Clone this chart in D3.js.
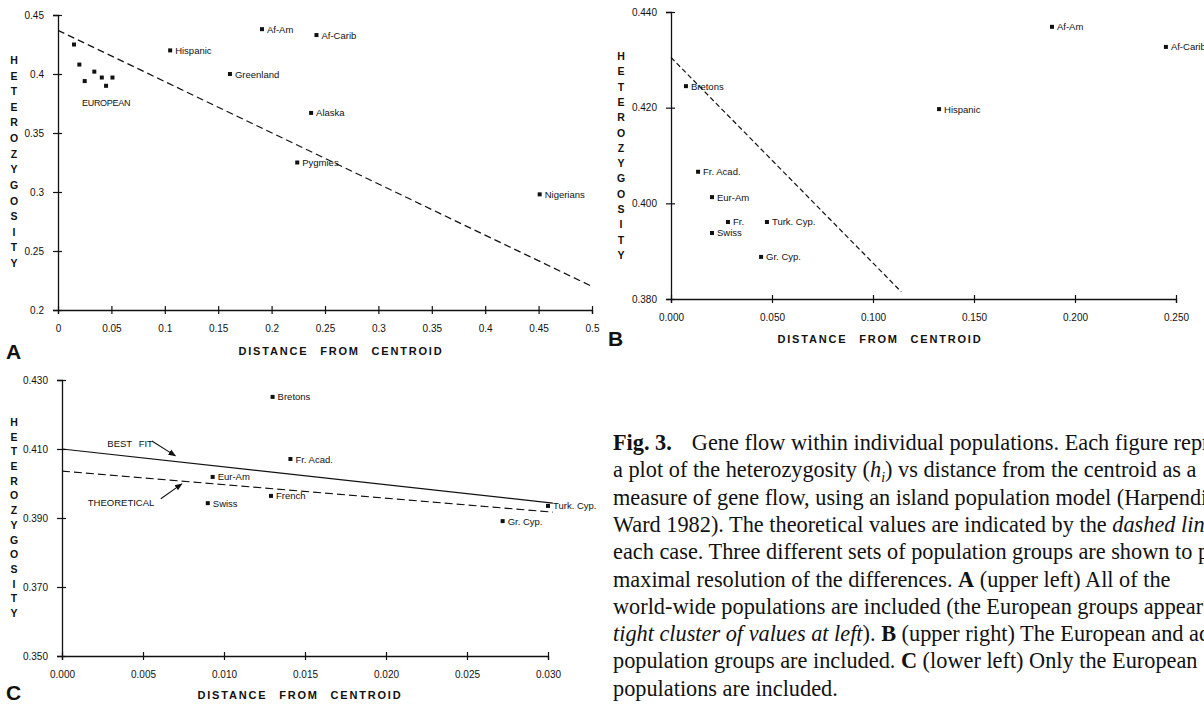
<!DOCTYPE html>
<html>
<head>
<meta charset="utf-8">
<script src="https://cdn.jsdelivr.net/npm/d3@7"></script>
<style>
body { margin: 0; background: #fff; overflow: hidden; }
svg text { font-family: "Liberation Sans", Arial, sans-serif; fill: #111; }
</style>
</head>
<body>
<svg id="fig" width="1204" height="705"></svg>
<script>
// Panel A: all populations
var popA = ["Hispanic", "Af-Am", "Af-Carib", "Greenland", "Alaska", "Pygmies", "Nigerians"];
var distA = [0.105, 0.191, 0.242, 0.161, 0.237, 0.224, 0.451];
var hetA = [0.420, 0.438, 0.433, 0.400, 0.367, 0.325, 0.298];
var eurDistA = [0.015, 0.020, 0.025, 0.034, 0.041, 0.045, 0.051];
var eurHetA = [0.425, 0.408, 0.394, 0.402, 0.397, 0.390, 0.397];
var theoryDistA = [0, 0.5];
var theoryHetA = [0.437, 0.220];
var xTicksA = [0, 0.05, 0.1, 0.15, 0.2, 0.25, 0.3, 0.35, 0.4, 0.45, 0.5];
var xLabelsA = ["0", "0.05", "0.1", "0.15", "0.2", "0.25", "0.3", "0.35", "0.4", "0.45", "0.5"];
var yTicksA = [0.2, 0.25, 0.3, 0.35, 0.4, 0.45];
var yLabelsA = ["0.2", "0.25", "0.3", "0.35", "0.4", "0.45"];

// Panel B: European and admixed
var popB = ["Bretons", "Fr. Acad.", "Eur-Am", "Fr.", "Swiss", "Turk. Cyp.", "Gr. Cyp.", "Hispanic", "Af-Am", "Af-Carib"];
var distB = [0.0074, 0.0134, 0.0203, 0.0282, 0.0203, 0.0475, 0.0446, 0.1327, 0.1886, 0.245];
var hetB = [0.4245, 0.4066, 0.4013, 0.3961, 0.3938, 0.3961, 0.3888, 0.4197, 0.4369, 0.4327];
var theoryDistB = [0, 0.114];
var theoryHetB = [0.4305, 0.3815];
var xTicksB = [0, 0.05, 0.1, 0.15, 0.2, 0.25];
var xLabelsB = ["0.000", "0.050", "0.100", "0.150", "0.200", "0.250"];
var yTicksB = [0.38, 0.40, 0.42, 0.44];
var yLabelsB = ["0.380", "0.400", "0.420", "0.440"];

// Panel C: European only
var popC = ["Bretons", "Fr. Acad.", "Eur-Am", "French", "Swiss", "Turk. Cyp.", "Gr. Cyp."];
var distC = [0.0130, 0.0141, 0.0093, 0.0129, 0.0090, 0.0300, 0.0272];
var hetC = [0.4251, 0.4071, 0.4019, 0.3964, 0.3943, 0.3935, 0.3891];
var fitDistC = [0, 0.0303];
var fitHetC = [0.4100, 0.3943];
var theoryDistC = [0, 0.0303];
var theoryHetC = [0.4036, 0.3917];
var xTicksC = [0, 0.005, 0.010, 0.015, 0.020, 0.025, 0.030];
var xLabelsC = ["0.000", "0.005", "0.010", "0.015", "0.020", "0.025", "0.030"];
var yTicksC = [0.35, 0.37, 0.39, 0.41, 0.43];
var yLabelsC = ["0.350", "0.370", "0.390", "0.410", "0.430"];

var svg = d3.select("#fig");
svg.append("rect").attr("width", 1204).attr("height", 705).attr("fill", "#fff");

// arrow head
svg.append("defs").append("marker")
    .attr("id", "arr")
    .attr("viewBox", "0 0 10 10")
    .attr("refX", 9).attr("refY", 5)
    .attr("markerWidth", 7).attr("markerHeight", 7)
    .attr("orient", "auto")
  .append("path")
    .attr("d", "M0,1 L10,5 L0,9 Z")
    .attr("fill", "#111");

function drawAxes(x, y, xt, xl, yt, yl) {
    var gx = svg.append("g")
        .attr("transform", "translate(0," + y.range()[0] + ")")
        .call(d3.axisBottom(x).tickValues(xt)
            .tickFormat(function(d, i) { return xl[i]; })
            .tickSize(4).tickPadding(11));
    var gy = svg.append("g")
        .attr("transform", "translate(" + x.range()[0] + ",0)")
        .call(d3.axisLeft(y).tickValues(yt)
            .tickFormat(function(d, i) { return yl[i]; })
            .tickSize(5).tickPadding(9));
    gx.select(".domain").attr("stroke", "#111").attr("stroke-width", 1.3);
    gy.select(".domain").attr("stroke", "#111").attr("stroke-width", 1.3);
    gx.selectAll(".tick line").attr("y1", -4).attr("stroke", "#111").attr("stroke-width", 1.2);
    gy.selectAll(".tick line").attr("x1", 4).attr("stroke", "#111").attr("stroke-width", 1.2);
    gx.selectAll("text").attr("font-size", 10).attr("fill", "#111");
    gy.selectAll("text").attr("font-size", 10).attr("fill", "#111");
}

function drawPoints(x, y, dist, het, names, size) {
    var g = svg.append("g");
    g.selectAll("rect")
        .data(dist)
        .enter()
        .append("rect")
        .attr("x", function(d) { return x(d) - 2; })
        .attr("y", function(d, i) { return y(het[i]) - 2; })
        .attr("width", 4).attr("height", 4)
        .attr("fill", "#111");
    if (names) {
        g.selectAll("text")
            .data(names)
            .enter()
            .append("text")
            .attr("x", function(d, i) { return x(dist[i]) + 5; })
            .attr("y", function(d, i) { return y(het[i]) + 3.5; })
            .attr("font-size", size)
            .text(function(d) { return d; });
    }
}

function drawLine(x, y, dist, het, dash) {
    var line = d3.line()
        .x(function(d) { return x(d); })
        .y(function(d, i) { return y(het[i]); });
    svg.append("path")
        .attr("d", line(dist))
        .attr("fill", "none")
        .attr("stroke", "#111")
        .attr("stroke-width", 1.2)
        .attr("stroke-dasharray", dash);
}

function yTitle(cx, top, bottom) {
    var letters = "HETEROZYGOSITY".split("");
    var step = (bottom - top) / (letters.length - 1);
    svg.append("g").selectAll("text")
        .data(letters)
        .enter()
        .append("text")
        .attr("x", cx)
        .attr("y", function(d, i) { return top + i * step + 4; })
        .attr("text-anchor", "middle")
        .attr("font-size", 10.5)
        .attr("font-weight", "bold")
        .text(function(d) { return d; });
}

function xTitle(cx, cy) {
    svg.append("text")
        .attr("x", cx).attr("y", cy)
        .attr("text-anchor", "middle")
        .attr("font-size", 11)
        .attr("font-weight", "bold")
        .attr("letter-spacing", 1.8)
        .attr("word-spacing", 7)
        .text("DISTANCE FROM CENTROID");
}

function panelLetter(px, py, s) {
    svg.append("text")
        .attr("x", px).attr("y", py)
        .attr("font-size", 21)
        .attr("font-weight", "bold")
        .text(s);
}

// ---------- Panel A ----------
var xA = d3.scaleLinear().domain([0, 0.5]).range([58, 592]);
var yA = d3.scaleLinear().domain([0.2, 0.45]).range([310, 15]);
drawAxes(xA, yA, xTicksA, xLabelsA, yTicksA, yLabelsA);
drawLine(xA, yA, theoryDistA, theoryHetA, "7,4");
drawPoints(xA, yA, eurDistA, eurHetA, null, 9.5);
drawPoints(xA, yA, distA, hetA, popA, 9.5);
svg.append("text")
    .attr("x", xA(0.045)).attr("y", yA(0.3729))
    .attr("text-anchor", "middle")
    .attr("font-size", 9)
    .attr("letter-spacing", -0.3)
    .text("EUROPEAN");
yTitle(14, 60, 263);
xTitle(341, 355);
panelLetter(6, 359, "A");

// ---------- Panel B ----------
var xB = d3.scaleLinear().domain([0, 0.25]).range([671, 1176]);
var yB = d3.scaleLinear().domain([0.38, 0.44]).range([299, 12]);
drawAxes(xB, yB, xTicksB, xLabelsB, yTicksB, yLabelsB);
drawLine(xB, yB, theoryDistB, theoryHetB, "5,3");
drawPoints(xB, yB, distB, hetB, popB, 9.5);
yTitle(621, 56, 255);
xTitle(880, 343);
panelLetter(608, 346, "B");

// ---------- Panel C ----------
var xC = d3.scaleLinear().domain([0, 0.030]).range([62, 548]);
var yC = d3.scaleLinear().domain([0.35, 0.43]).range([656, 380]);
drawAxes(xC, yC, xTicksC, xLabelsC, yTicksC, yLabelsC);
drawLine(xC, yC, fitDistC, fitHetC, null);
drawLine(xC, yC, theoryDistC, theoryHetC, "8,4");
drawPoints(xC, yC, distC, hetC, popC, 9.5);
yTitle(14, 422, 613);
xTitle(300, 699);
panelLetter(6, 700, "C");

// annotation arrows in C
var notes = [
    {text: "BEST  FIT", tx: 0.0028, ty: 0.4106, anchor: "start", x1: 0.00555, y1: 0.4123, x2: 0.0070, y2: 0.4080},
    {text: "THEORETICAL", tx: 0.0057, ty: 0.3935, anchor: "end", x1: 0.0061, y1: 0.3956, x2: 0.0074, y2: 0.3999}
];
notes.forEach(function(n) {
    svg.append("text")
        .attr("x", xC(n.tx)).attr("y", yC(n.ty))
        .attr("text-anchor", n.anchor)
        .attr("font-size", 9.5)
        .attr("word-spacing", 4)
        .text(n.text);
    svg.append("line")
        .attr("x1", xC(n.x1)).attr("y1", yC(n.y1))
        .attr("x2", xC(n.x2)).attr("y2", yC(n.y2))
        .attr("stroke", "#111")
        .attr("stroke-width", 1.1)
        .attr("marker-end", "url(#arr)");
});

// ---------- Caption ----------
var captionLines = [
    [["b", "Fig. 3."], ["g", "Gene flow within individual populations. Each figure represents"]],
    [["n", "a plot of the heterozygosity ("], ["i", "h"], ["s", "i"], ["u", ") vs distance from the centroid as a"]],
    [["n", "measure of gene flow, using an island population model (Harpending and"]],
    [["n", "Ward 1982). The theoretical values are indicated by the "], ["i", "dashed lines"], ["n", " in"]],
    [["n", "each case. Three different sets of population groups are shown to permit"]],
    [["n", "maximal resolution of the differences. "], ["b", "A"], ["n", " (upper left) All of the"]],
    [["n", "world-wide populations are included (the European groups appear as a"]],
    [["i", "tight cluster of values at left"], ["n", "). "], ["b", "B"], ["n", " (upper right) The European and admixed"]],
    [["n", "population groups are included. "], ["b", "C"], ["n", " (lower left) Only the European"]],
    [["n", "populations are included."]]
];
var cap = svg.append("g");
captionLines.forEach(function(segs, li) {
    var t = cap.append("text")
        .attr("x", 613)
        .attr("y", 450 + li * 27.3)
        .style("font-family", "'Liberation Serif', 'Times New Roman', serif")
        .attr("font-size", 22.3);
    segs.forEach(function(s) {
        var ts = t.append("tspan").text(s[1]);
        if (s[0] == "b") ts.attr("font-weight", "bold");
        if (s[0] == "i") ts.attr("font-style", "italic");
        if (s[0] == "g") ts.attr("dx", 20);
        if (s[0] == "s") ts.attr("font-style", "italic").attr("font-size", 14).attr("dy", 5);
        if (s[0] == "u") ts.attr("dy", -5);
    });
});
</script>
</body>
</html>
